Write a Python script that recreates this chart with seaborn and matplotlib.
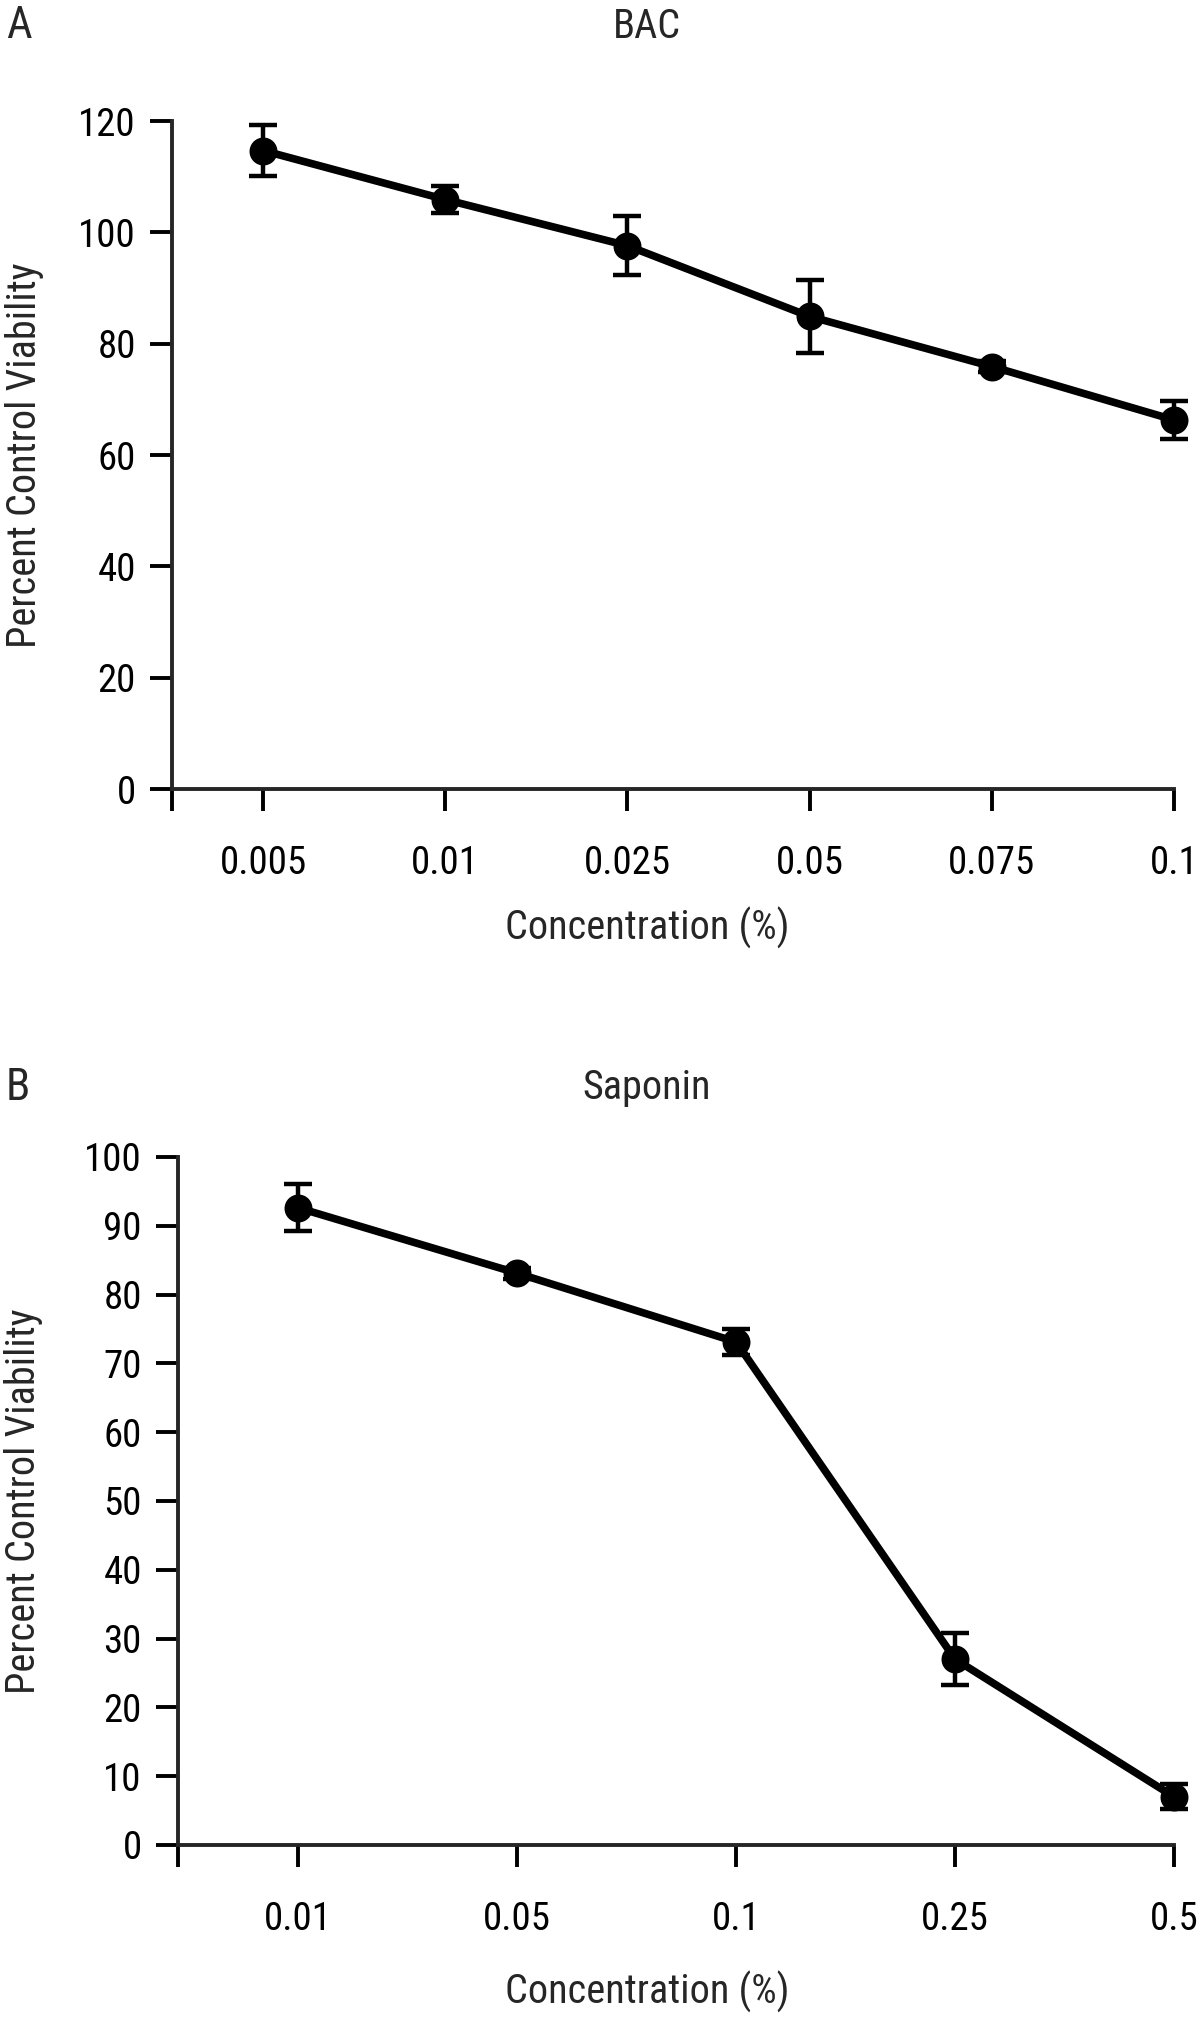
import numpy as np
import pandas as pd
import seaborn as sns
import matplotlib
matplotlib.use("Agg")
import matplotlib.pyplot as plt

# data
bac_conc = ["0.005", "0.01", "0.025", "0.05", "0.075", "0.1"]
bac_mean = [114.7, 105.9, 97.6, 84.9, 75.9, 66.3]
bac_err = [4.6, 2.5, 5.3, 6.6, 1.0, 3.4]

sap_conc = ["0.01", "0.05", "0.1", "0.25", "0.5"]
sap_mean = [92.6, 83.1, 73.1, 27.0, 7.0]
sap_err = [3.4, 0.8, 1.9, 3.8, 1.8]

sns.set_style("ticks")
plt.rcParams["font.family"] = ["Liberation Sans Narrow", "Roboto Condensed",
                               "Liberation Sans", "DejaVu Sans"]
plt.rcParams["axes.linewidth"] = 2.8

fig = plt.figure(figsize=(12, 20.17), dpi=100)
axA = fig.add_axes([0.1433, 0.6088, 0.8350, 0.3312])
axB = fig.add_axes([0.1483, 0.0853, 0.8300, 0.3411])


def panel(ax, conc, mean, err, ymax, ystep, left):
    df = pd.DataFrame({"conc": conc, "viab": mean})
    sns.pointplot(data=df, x="conc", y="viab", order=conc, color="black",
                  markers="o", markersize=16, linewidth=5.5, ax=ax)
    ax.errorbar(np.arange(len(conc)), mean, yerr=err, fmt="none",
                ecolor="black", elinewidth=3.2, capsize=10, capthick=3.2,
                zorder=1)
    for a in ax.lines + ax.collections:
        a.set_clip_on(False)
    ax.set_xlim(left, len(conc) - 1)
    ax.set_ylim(0, ymax)
    ax.set_yticks(np.arange(0, ymax + 1, ystep))
    ax.set_xticks([left] + list(range(len(conc))))
    ax.set_xticklabels([""] + conc)
    ax.tick_params(axis="both", length=16, width=2.8, labelsize=28,
                   color="black", labelcolor="black")
    ax.tick_params(axis="x", pad=24)
    ax.tick_params(axis="y", pad=10)
    ax.spines["top"].set_visible(False)
    ax.spines["right"].set_visible(False)
    ax.set_xlabel("")
    ax.set_ylabel("Percent Control Viability", fontsize=29)
    return ax


panel(axA, bac_conc, bac_mean, bac_err, 120, 20, -0.5)
panel(axB, sap_conc, sap_mean, sap_err, 100, 10, -0.55)
axA.yaxis.set_label_coords(-0.128, 0.5)
axB.yaxis.set_label_coords(-0.136, 0.5)

# titles, x labels and panel letters
fig.text(0.539, 0.987, "BAC", fontsize=29, ha="center", va="center")
fig.text(0.539, 0.4606, "Saponin", fontsize=29, ha="center", va="center")
fig.text(0.539, 0.540, "Concentration (%)", fontsize=29, ha="center", va="center")
fig.text(0.539, 0.0124, "Concentration (%)", fontsize=29, ha="center", va="center")
fig.text(0.005, 0.987, "A", fontsize=32, va="center", ha="left")
fig.text(0.005, 0.4606, "B", fontsize=32, va="center", ha="left")

fig.savefig("out.png", dpi=100, facecolor="white")
